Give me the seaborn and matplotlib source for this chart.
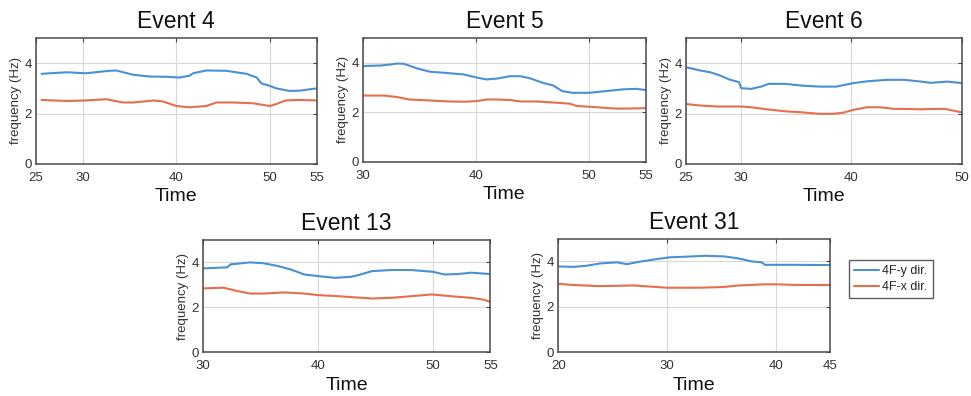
import numpy as np
import pandas as pd
import matplotlib
matplotlib.use("Agg")
import matplotlib.pyplot as plt
import seaborn as sns
from matplotlib.lines import Line2D

# ---- identified modal frequencies of the 4th floor, per event ----
ev4_t_y = [25.6, 28.3, 30.3, 32.9, 33.6, 35.4, 37.2, 39.0, 40.3, 41.4, 41.8, 43.2, 45.3, 47.5, 48.6, 49.1, 50.0, 50.7, 52.1, 53.2, 55.0]
ev4_f_y = [3.58, 3.64, 3.60, 3.70, 3.71, 3.54, 3.47, 3.46, 3.43, 3.50, 3.60, 3.71, 3.70, 3.58, 3.43, 3.20, 3.10, 3.00, 2.90, 2.91, 3.00]
ev4_t_x = [25.6, 28.3, 30.3, 32.5, 34.3, 35.4, 37.6, 38.6, 40.0, 41.4, 43.2, 44.3, 46.0, 48.2, 50.0, 50.7, 51.7, 53.2, 55.0]
ev4_f_x = [2.54, 2.50, 2.52, 2.57, 2.44, 2.44, 2.52, 2.48, 2.30, 2.25, 2.30, 2.44, 2.44, 2.41, 2.30, 2.38, 2.52, 2.54, 2.52]

ev5_t_y = [30.0, 31.5, 32.4, 33.0, 33.6, 34.8, 35.9, 37.1, 38.9, 40.1, 40.9, 41.8, 43.0, 43.9, 44.8, 45.9, 46.8, 47.6, 48.5, 50.0, 51.5, 53.0, 54.2, 55.0]
ev5_f_y = [3.87, 3.89, 3.93, 3.97, 3.96, 3.77, 3.64, 3.60, 3.53, 3.40, 3.33, 3.36, 3.46, 3.46, 3.37, 3.19, 3.09, 2.86, 2.79, 2.79, 2.86, 2.93, 2.95, 2.90]
ev5_t_x = [30.0, 31.8, 33.0, 34.1, 35.9, 37.6, 39.1, 40.1, 40.9, 41.8, 43.0, 43.9, 45.4, 47.1, 48.3, 48.9, 50.6, 52.1, 53.0, 55.0]
ev5_f_x = [2.68, 2.68, 2.62, 2.52, 2.48, 2.44, 2.43, 2.46, 2.52, 2.52, 2.50, 2.44, 2.44, 2.39, 2.35, 2.26, 2.21, 2.16, 2.15, 2.17]

ev6_t_y = [25.0, 26.3, 27.2, 28.1, 29.0, 29.8, 30.0, 30.9, 31.8, 32.5, 34.0, 35.5, 37.1, 38.6, 40.2, 41.4, 43.2, 44.8, 46.3, 47.2, 48.7, 50.0]
ev6_f_y = [3.84, 3.71, 3.64, 3.51, 3.34, 3.25, 3.01, 2.98, 3.07, 3.18, 3.18, 3.11, 3.07, 3.07, 3.21, 3.28, 3.34, 3.34, 3.27, 3.22, 3.27, 3.21]
ev6_t_x = [25.0, 26.3, 27.8, 30.0, 30.9, 32.5, 34.0, 35.5, 37.1, 38.3, 39.2, 40.2, 41.4, 42.6, 43.8, 46.3, 48.4, 50.0]
ev6_f_x = [2.38, 2.32, 2.28, 2.28, 2.25, 2.16, 2.09, 2.05, 1.99, 1.99, 2.03, 2.15, 2.25, 2.25, 2.19, 2.17, 2.19, 2.05]

ev13_t_y = [30.0, 32.1, 32.4, 34.1, 35.3, 36.5, 37.6, 38.2, 38.8, 40.0, 41.5, 42.9, 43.5, 44.7, 46.4, 48.1, 50.0, 51.0, 52.2, 53.3, 55.0]
ev13_f_y = [3.73, 3.78, 3.91, 4.00, 3.96, 3.84, 3.69, 3.58, 3.46, 3.39, 3.31, 3.36, 3.43, 3.61, 3.66, 3.66, 3.58, 3.46, 3.48, 3.54, 3.48]
ev13_t_x = [30.0, 31.8, 33.0, 34.1, 35.3, 37.1, 38.8, 40.0, 41.8, 43.5, 44.7, 46.4, 48.1, 49.9, 51.6, 53.3, 54.4, 55.0]
ev13_f_x = [2.84, 2.87, 2.72, 2.61, 2.61, 2.66, 2.61, 2.54, 2.49, 2.43, 2.39, 2.42, 2.49, 2.57, 2.49, 2.42, 2.34, 2.24]

ev31_t_y = [20.0, 21.4, 22.6, 23.8, 25.4, 26.3, 27.5, 29.0, 30.2, 31.7, 33.5, 35.3, 36.6, 37.8, 38.7, 39.0, 40.0, 42.0, 45.0]
ev31_f_y = [3.78, 3.76, 3.81, 3.91, 3.96, 3.88, 3.99, 4.10, 4.18, 4.21, 4.25, 4.22, 4.13, 4.00, 3.96, 3.85, 3.85, 3.85, 3.84]
ev31_t_x = [20.0, 21.4, 23.8, 26.9, 30.0, 32.9, 35.1, 36.6, 39.0, 40.0, 42.0, 45.0]
ev31_f_x = [3.01, 2.96, 2.91, 2.94, 2.84, 2.84, 2.87, 2.94, 2.99, 2.99, 2.96, 2.96]

titles = ["Event 4", "Event 5", "Event 6", "Event 13", "Event 31"]
series = [
    (ev4_t_y, ev4_f_y, ev4_t_x, ev4_f_x),
    (ev5_t_y, ev5_f_y, ev5_t_x, ev5_f_x),
    (ev6_t_y, ev6_f_y, ev6_t_x, ev6_f_x),
    (ev13_t_y, ev13_f_y, ev13_t_x, ev13_f_x),
    (ev31_t_y, ev31_f_y, ev31_t_x, ev31_f_x),
]
x_limits = [(25, 55), (30, 55), (25, 50), (30, 55), (20, 45)]
x_ticks = [[25, 30, 40, 50, 55], [30, 40, 50, 55], [25, 30, 40, 50], [30, 40, 50, 55], [20, 30, 40, 45]]
y_ticks = [0, 2, 4]
directions = ["4F-y dir.", "4F-x dir."]
colors = ["#4a90d4", "#e56f4c"]

sns.set_theme(style="white")
plt.rcParams["font.family"] = ["Liberation Sans", "DejaVu Sans"]

fig = plt.figure(figsize=(9.71, 3.96), dpi=100)

# axes rectangles [left, bottom, width, height] in figure fraction
rects = [
    [0.037, 0.586, 0.289, 0.318],
    [0.374, 0.591, 0.291, 0.313],
    [0.7065, 0.586, 0.284, 0.318],
    [0.209, 0.111, 0.296, 0.283],
    [0.575, 0.111, 0.280, 0.286],
]

palette = dict(zip(directions, colors))

for k, (title, (ty, fy, tx, fx)) in enumerate(zip(titles, series)):
    ax = fig.add_axes(rects[k])
    df = pd.concat([
        pd.DataFrame({"Time": ty, "freq": fy, "dir": directions[0]}),
        pd.DataFrame({"Time": tx, "freq": fx, "dir": directions[1]}),
    ])
    sns.lineplot(data=df, x="Time", y="freq", hue="dir", hue_order=directions,
                 palette=palette, linewidth=1.5, sort=True, estimator=None,
                 legend=False, ax=ax)
    ax.set_xlim(*x_limits[k])
    ax.set_ylim(0, 5)
    ax.set_xticks(x_ticks[k])
    ax.set_yticks(y_ticks)
    ax.grid(True, color="#d8d8d8", linewidth=0.8)
    ax.set_axisbelow(True)
    for sp in ax.spines.values():
        sp.set_visible(True)
        sp.set_color("#4a4a4a")
        sp.set_linewidth(1.1)
    ax.tick_params(axis="x", direction="in", length=3, width=0.8,
                   colors="#444444", labelsize=9.5, top=True,
                   labelcolor="#333333", pad=6)
    ax.tick_params(axis="y", direction="in", length=3, width=0.8,
                   colors="#444444", labelsize=9.5, right=True,
                   labelcolor="#333333", pad=3)
    ax.set_title(title, fontsize=16.5, pad=7, color="#111111")
    ax.set_xlabel("Time", fontsize=14, color="#111111", labelpad=3)
    ax.set_ylabel("frequency (Hz)", fontsize=9.5, color="#333333", labelpad=2)

handles = [Line2D([], [], color=c, linewidth=1.5) for c in colors]
fig.legend(handles, directions, loc="upper left",
           bbox_to_anchor=(0.874, 0.343), fontsize=9, frameon=True,
           fancybox=False, edgecolor="#333333", handlelength=2.0,
           handletextpad=0.3, borderpad=0.4, labelspacing=0.3,
           borderaxespad=0)

fig.savefig("out.png", dpi=100, facecolor="white")
